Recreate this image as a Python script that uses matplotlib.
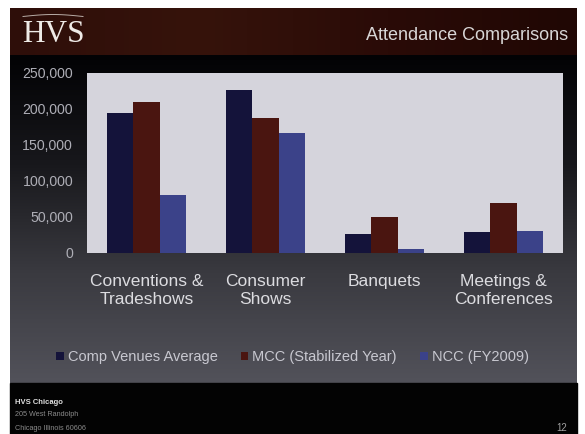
import matplotlib
matplotlib.use("Agg")
import matplotlib.pyplot as plt
import numpy as np
from matplotlib.patches import Rectangle
from matplotlib.colors import LinearSegmentedColormap

categories = ["Conventions &\nTradeshows", "Consumer\nShows", "Banquets", "Meetings &\nConferences"]
series_names = ["Comp Venues Average", "MCC (Stabilized Year)", "NCC (FY2009)"]
comp_venues = [195000, 226000, 27000, 29000]
mcc = [210000, 188000, 50000, 70000]
ncc = [80000, 167000, 5000, 31000]
yticks = [0, 50000, 100000, 150000, 200000, 250000]
ytick_labels = ["0", "50,000", "100,000", "150,000", "200,000", "250,000"]

colors = ["#14133a", "#4a1510", "#3b4289"]

W, H = 585, 434
fig = plt.figure(figsize=(W / 100, H / 100), dpi=100)
fig.patch.set_facecolor("white")
plt.rcParams['font.family'] = ['Liberation Sans', 'DejaVu Sans']

def fx(px):
    return px / W

def fy(py):
    return 1 - py / H

# slide background axes
bg = fig.add_axes([0, 0, 1, 1], zorder=0)
bg.axis("off")
grad = np.linspace(0, 1, 256).reshape(-1, 1)
cmap = LinearSegmentedColormap.from_list("g", ["#020204", "#18181c", "#3a3a40", "#52525a"])
bg.imshow(grad, extent=[10, 577, 383, 55], cmap=cmap, aspect="auto", zorder=1)
hgrad = np.linspace(0, 1, 256).reshape(1, -1)
hcmap = LinearSegmentedColormap.from_list("h", ["#2e0e09", "#36130b", "#2a0b07", "#200704"])
bg.imshow(hgrad, extent=[10, 577, 55, 8], cmap=hcmap, aspect="auto", zorder=1)
bg.add_patch(Rectangle((10, 383), 567, 51, color="#030303", zorder=2))
bg.set_xlim(0, W)
bg.set_ylim(H, 0)

# header texts
bg.text(22, 34, "HVS", fontfamily=["Liberation Serif", "DejaVu Serif"], fontsize=22.5,
        color="#eeeae6", va="center", ha="left", zorder=3)
bg.plot(np.linspace(23, 83, 30), 16.5 - 2.0 * np.sin(np.linspace(0, np.pi, 30)),
        color="#b8aca6", lw=0.7, zorder=3)
bg.text(568, 35, "Attendance Comparisons", fontsize=13, color="#d8d6d6",
        va="center", ha="right", zorder=3)

# footer texts
bg.text(15, 402, "HVS Chicago", fontsize=5.5, fontweight="bold", color="#e0e0e0",
        va="center", ha="left", zorder=3)
bg.text(15, 415, "205 West Randolph", fontsize=5.2, color="#8a8a8a",
        va="center", ha="left", zorder=3)
bg.text(15, 428, "Chicago Illinois 60606", fontsize=5.2, color="#8a8a8a",
        va="center", ha="left", zorder=3)
bg.text(567, 428, "12", fontsize=7, color="#a0a0a0", va="center", ha="right", zorder=3)

# chart axes
ax = fig.add_axes([fx(87), fy(253), fx(563) - fx(87), (253 - 73) / H], zorder=2)
ax.set_facecolor("#d5d4dc")
x = np.arange(len(categories))
bw = 0.224
for i, (vals, c, name) in enumerate(zip([comp_venues, mcc, ncc], colors, series_names)):
    ax.bar(x + (i - 1) * bw, vals, width=bw, color=c, label=name, zorder=2)
ax.set_xlim(-0.5, 3.5)
ax.set_ylim(0, 250000)
ax.set_yticks(yticks)
ax.set_yticklabels(ytick_labels)
ax.set_xticks(x)
ax.set_xticklabels(categories)
for s in ax.spines.values():
    s.set_visible(False)
ax.tick_params(axis="both", length=0)
ax.tick_params(axis="y", colors="#aeaeb6", labelsize=10.2, pad=10)
ax.tick_params(axis="x", colors="#dcdce0", labelsize=12.5, pad=15)
for lab in ax.get_xticklabels():
    lab.set_linespacing(1.3)
    lab.set_verticalalignment("top")

leg = ax.legend(loc="center", bbox_to_anchor=(0.5, fy(357)), bbox_transform=fig.transFigure,
                ncol=3, frameon=False, fontsize=10.5, handlelength=0.5, handleheight=0.5,
                handletextpad=0.28, columnspacing=1.6, labelcolor="#c8c8d0")

fig.savefig("out.png", dpi=100, facecolor=fig.get_facecolor())
